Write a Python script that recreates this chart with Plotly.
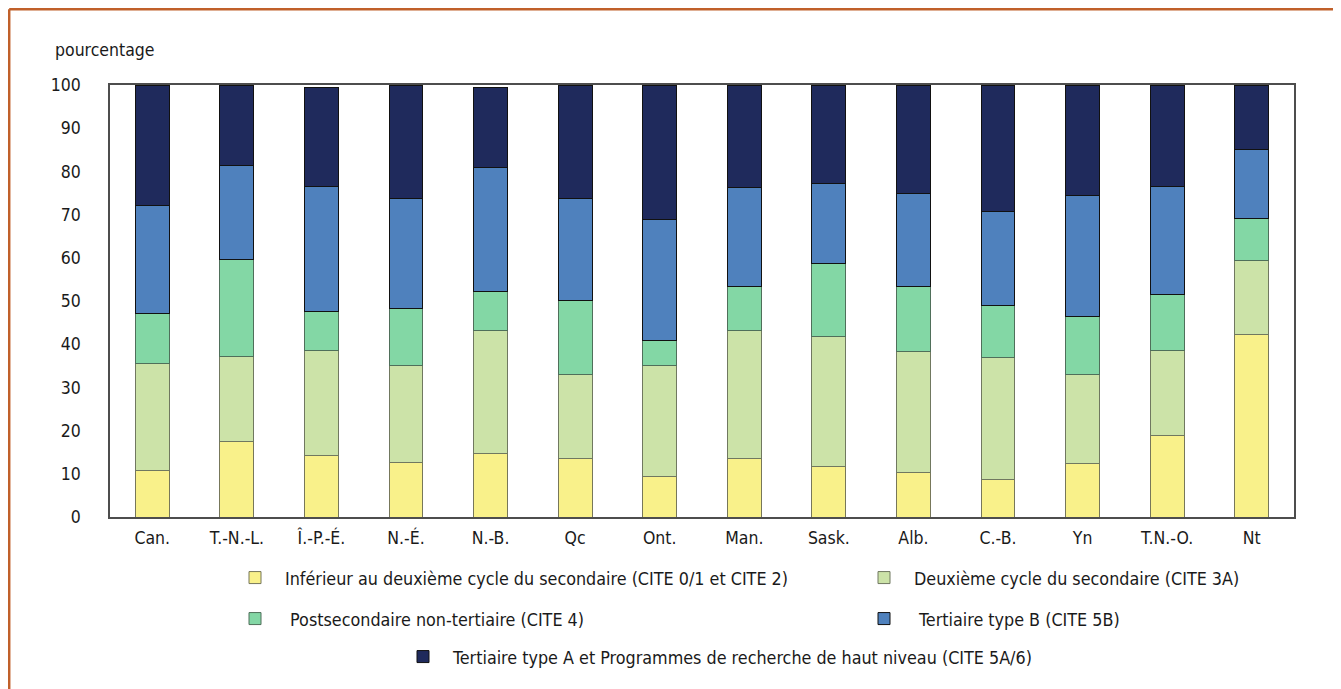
import plotly.graph_objects as go

categories = ["Can.", "T.-N.-L.", "Î.-P.-É.", "N.-É.", "N.-B.", "Qc", "Ont.",
              "Man.", "Sask.", "Alb.", "C.-B.", "Yn", "T.N.-O.", "Nt"]

inferieur = [10.8, 17.5, 14.3, 12.7, 14.7, 13.5, 9.3, 13.5, 11.6, 10.3, 8.6, 12.3, 18.9, 42.3]
deuxieme = [24.8, 19.7, 24.3, 22.3, 28.4, 19.4, 25.7, 29.6, 30.2, 28.0, 28.4, 20.7, 19.7, 17.0]
postsec = [11.6, 22.5, 8.9, 13.2, 9.1, 17.3, 5.9, 10.3, 16.8, 15.1, 12.0, 13.5, 12.8, 9.8]
tert_b = [24.9, 21.7, 29.0, 25.6, 28.7, 23.6, 28.0, 22.9, 18.6, 21.6, 21.8, 28.0, 25.1, 16.0]
tert_a = [27.9, 18.6, 23.0, 26.2, 18.6, 26.2, 31.1, 23.7, 22.8, 25.0, 29.2, 25.5, 23.5, 14.9]

series_names = [
    "Inférieur au deuxième cycle du secondaire (CITE 0/1 et CITE 2)",
    "Deuxième cycle du secondaire (CITE 3A)",
    " Postsecondaire non-tertiaire (CITE 4)",
    " Tertiaire type B (CITE 5B)",
    "Tertiaire type A et Programmes de recherche de haut niveau (CITE 5A/6)",
]
series_values = [inferieur, deuxieme, postsec, tert_b, tert_a]
colors = ["#F9F18A", "#CCE3A8", "#83D7A5", "#4F81BD", "#1F2A5C"]
line_colors = ["#77775A", "#707860", "#4F6F5A", "#111111", "#111111"]

FONT = "DejaVu Sans Condensed, Liberation Sans Narrow, sans-serif"
FS = 17.5

OFF = 8  # page offset of the figure inside the browser window
W, H = 1341 - OFF, 689 - OFF
L, T = 110 - OFF, 85 - OFF
PW, PH = 1184, 432
R = W - L - PW
B = H - T - PH

def px_x(px):
    return (px - OFF - L) / PW

def px_y(py):
    return (T + PH - (py - OFF)) / PH

fig = go.Figure()
legend_ids = ["legend", "legend2", "legend3", "legend4", "legend5"]
for name, vals, col, lc, lg in zip(series_names, series_values, colors, line_colors, legend_ids):
    fig.add_trace(go.Bar(
        x=categories, y=vals, name=name,
        marker=dict(color=col, line=dict(color=lc, width=1)),
        width=0.4, legend=lg, hoverinfo="skip",
    ))

# legend positions (symbol centre px, row centre px) in reference coordinates
legend_pos = [(255, 578), (884, 578), (255, 619), (884, 619), (423, 657)]
leg_layout = {}
for lg, (sx, sy) in zip(legend_ids, legend_pos):
    leg_layout[lg] = dict(
        x=px_x(sx - 30), y=px_y(sy), xanchor="left", yanchor="middle",
        orientation="h", font=dict(family=FONT, size=17.8, color="#1a1a1a"),
        bgcolor="rgba(0,0,0,0)", itemclick=False, itemdoubleclick=False,
        itemwidth=50,
    )

fig.update_layout(
    width=W, height=H,
    margin=dict(l=L, r=R, t=T, b=B, autoexpand=False),
    paper_bgcolor="white", plot_bgcolor="white",
    barmode="stack", bargap=0.6,
    showlegend=True,
    font=dict(family=FONT, size=FS, color="#1a1a1a"),
    xaxis=dict(
        type="category", showgrid=False, ticks="", showline=True, mirror=True,
        linecolor="#4d4d4d", linewidth=1.5, tickfont=dict(family=FONT, size=FS),
        range=[-0.5, len(categories) - 0.5], ticklabelstandoff=4,
    ),
    yaxis=dict(
        range=[0, 100], dtick=10, showgrid=False, zeroline=False, ticks="",
        showline=True, mirror=True, linecolor="#4d4d4d", linewidth=1.5,
        tickfont=dict(family=FONT, size=FS), ticklabelstandoff=24,
    ),
    annotations=[dict(
        text="pourcentage", x=px_x(53), y=px_y(50), xref="paper", yref="paper",
        xanchor="left", yanchor="middle", showarrow=False,
        font=dict(family=FONT, size=FS, color="#1a1a1a"),
    )],
    shapes=[
        dict(type="line", xref="paper", yref="paper",
             x0=px_x(9.2), x1=px_x(1400), y0=px_y(9.2), y1=px_y(9.2),
             line=dict(color="#C0602A", width=2.5)),
        dict(type="line", xref="paper", yref="paper",
             x0=px_x(9.2), x1=px_x(9.2), y0=px_y(9.2), y1=px_y(720),
             line=dict(color="#C0602A", width=2.5)),
    ],
    **leg_layout,
)

fig.write_html("out.html")
